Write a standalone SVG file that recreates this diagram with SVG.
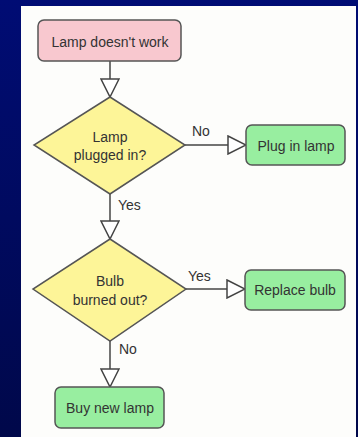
<svg xmlns="http://www.w3.org/2000/svg" width="358" height="437" viewBox="0 0 358 437">
<defs>
<linearGradient id="bg" x1="0" y1="0" x2="0" y2="1">
<stop offset="0" stop-color="#000c74"/>
<stop offset="1" stop-color="#00084a"/>
</linearGradient>
<marker id="tri" viewBox="0 0 20 20" refX="19" refY="10" markerWidth="20" markerHeight="20" markerUnits="userSpaceOnUse" orient="auto">
<path d="M1,1 L19,10 L1,19 Z" fill="#ffffff" stroke="#444" stroke-width="1.5" stroke-linejoin="miter"/>
</marker>
<style>
text{font-family:"Liberation Sans",Arial,sans-serif;font-size:14px;fill:#333;text-anchor:middle}
.lbl{text-anchor:start}
.box{stroke:#555;stroke-width:1.5}
.edge{stroke:#444;stroke-width:1.5;fill:none}
</style>
</defs>
<rect width="358" height="437" fill="url(#bg)"/>
<rect x="21" y="6" width="335" height="431" fill="#fdfdfb"/>
<g id="connectors">
<path class="edge" d="M110,61 V97" marker-end="url(#tri)"/>
<path class="edge" d="M185,145 H246" marker-end="url(#tri)"/>
<text class="lbl" x="192" y="136">No</text>
<path class="edge" d="M110,194 V239" marker-end="url(#tri)"/>
<text class="lbl" x="118" y="210">Yes</text>
<path class="edge" d="M186,289 H245" marker-end="url(#tri)"/>
<text class="lbl" x="188" y="281">Yes</text>
<path class="edge" d="M110,341 V387" marker-end="url(#tri)"/>
<text class="lbl" x="119" y="354">No</text>
</g>
<g id="start">
<rect class="box" x="38" y="20" width="143" height="41" rx="6" fill="#f8c8cf"/>
<text x="110" y="47">Lamp doesn't work</text>
</g>
<g id="plugged">
<path class="box" d="M110,97 L185,145 L110,194 L34,145 Z" fill="#fdf598"/>
<text x="110" y="142">Lamp</text>
<text x="110" y="160">plugged in?</text>
</g>
<g id="plugin">
<rect class="box" x="246" y="125" width="99" height="40" rx="6" fill="#98eea0"/>
<text x="296" y="151">Plug in lamp</text>
</g>
<g id="burned">
<path class="box" d="M110,239 L186,289 L110,341 L33,289 Z" fill="#fdf598"/>
<text x="110" y="286">Bulb</text>
<text x="110" y="305">burned out?</text>
</g>
<g id="replace">
<rect class="box" x="245" y="270" width="100" height="40" rx="6" fill="#98eea0"/>
<text x="295" y="295">Replace bulb</text>
</g>
<g id="buy">
<rect class="box" x="55" y="387" width="109" height="41" rx="6" fill="#98eea0"/>
<text x="110" y="413">Buy new lamp</text>
</g>
</svg>
